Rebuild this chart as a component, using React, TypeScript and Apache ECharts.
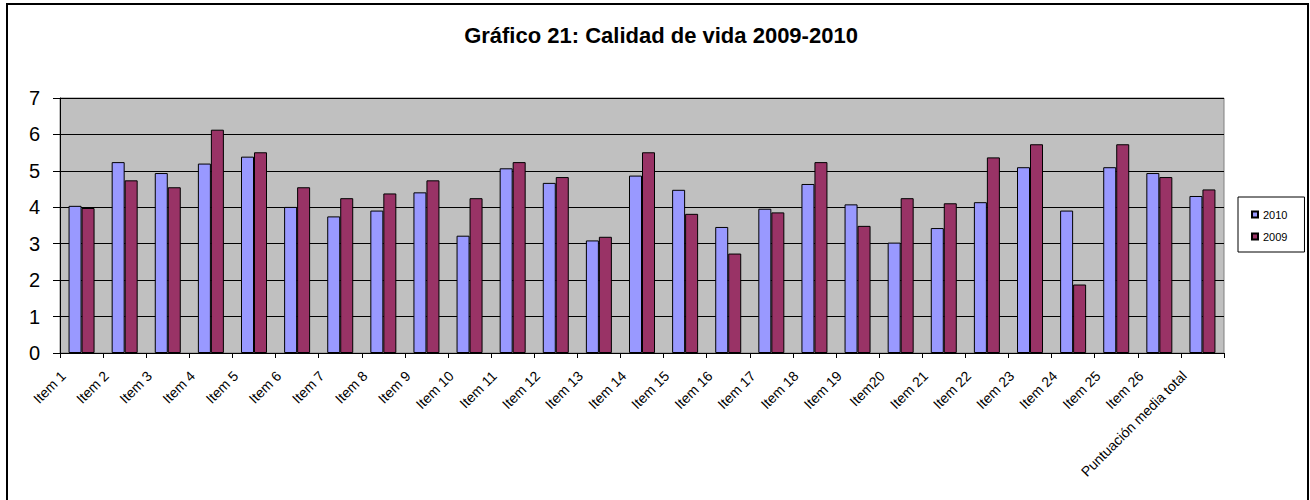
import React, { useEffect, useRef } from "react";
import * as echarts from "echarts";

const categories = [
  "Item 1", "Item 2", "Item 3", "Item 4", "Item 5", "Item 6", "Item 7", "Item 8", "Item 9",
  "Item 10", "Item 11", "Item 12", "Item 13", "Item 14", "Item 15", "Item 16", "Item 17",
  "Item 18", "Item 19", "Item20", "Item 21", "Item 22", "Item 23", "Item 24", "Item 25",
  "Item 26", "Puntuación media total",
];

const values2010 = [
  4.04, 5.24, 4.94, 5.2, 5.39, 4.01, 3.75, 3.91, 4.41, 3.22, 5.07, 4.67, 3.09, 4.87,
  4.48, 3.46, 3.96, 4.64, 4.08, 3.03, 3.43, 4.14, 5.1, 3.91, 5.1, 4.94, 4.31,
];

const values2009 = [
  3.98, 4.74, 4.55, 6.13, 5.51, 4.55, 4.25, 4.38, 4.74, 4.25, 5.24, 4.83, 3.19, 5.51,
  3.82, 2.73, 3.86, 5.24, 3.49, 4.25, 4.11, 5.37, 5.73, 1.88, 5.73, 4.83, 4.49,
];

const seriesNames = ["2010", "2009"];
const titleText = "Gráfico 21: Calidad de vida 2009-2010";

const FONT = "'Liberation Sans', Arial, sans-serif";

export default function App() {
  const ref = useRef<HTMLDivElement>(null);

  useEffect(() => {
    document.body.style.margin = "0";
    if (!ref.current) return;
    const chart = echarts.init(ref.current, null, { renderer: "svg" });
    chart.setOption({
      animation: false,
      backgroundColor: "#ffffff",
      title: {
        text: titleText,
        left: 656,
        top: 19,
        textAlign: "center",
        textStyle: { fontFamily: FONT, fontSize: 22, fontWeight: "bold", color: "#000" },
      },
      legend: {
        orient: "vertical",
        left: 1238,
        top: 197,
        data: seriesNames,
        borderColor: "#000",
        borderWidth: 1,
        padding: [12, 17, 10, 13],
        itemWidth: 6,
        itemHeight: 6,
        itemGap: 11,
        icon: "rect",
        textStyle: { fontFamily: FONT, fontSize: 11, color: "#000" },
      },
      grid: {
        left: 60,
        top: 98,
        width: 1164,
        height: 255,
        show: true,
        backgroundColor: "#C0C0C0",
        borderColor: "#808080",
        borderWidth: 1,
      },
      xAxis: {
        type: "category",
        data: categories,
        axisLine: { lineStyle: { color: "#000", width: 1 } },
        axisTick: { show: true, length: 5, lineStyle: { color: "#000" } },
        axisLabel: {
          rotate: 45,
          interval: 0,
          margin: 2,
          padding: [0, 26, 0, 0],
          fontFamily: FONT,
          fontSize: 14,
          color: "#000",
        },
      },
      yAxis: {
        type: "value",
        min: 0,
        max: 7,
        interval: 1,
        axisLine: { show: true, lineStyle: { color: "#000", width: 1 } },
        axisTick: { show: true, length: 7, lineStyle: { color: "#000" } },
        axisLabel: { margin: 20, fontFamily: FONT, fontSize: 20, color: "#000" },
        splitLine: { show: true, lineStyle: { color: "#000", width: 1 } },
      },
      series: [
        {
          name: seriesNames[0],
          type: "bar",
          data: values2010,
          barWidth: 13,
          barGap: "0%",
          itemStyle: { color: "#9999FF", borderColor: "#000", borderWidth: 1 },
        },
        {
          name: seriesNames[1],
          type: "bar",
          data: values2009,
          barWidth: 13,
          barGap: "0%",
          itemStyle: { color: "#993366", borderColor: "#000", borderWidth: 1 },
        },
      ],
      graphic: [
        {
          type: "rect",
          silent: true,
          shape: { x: 7, y: 4, width: 1301, height: 600 },
          style: { fill: "none", stroke: "#000", lineWidth: 2 },
          z: 100,
        },
      ],
    });
    return () => chart.dispose();
  }, []);

  return <div ref={ref} style={{ width: 1310, height: 500 }} />;
}
